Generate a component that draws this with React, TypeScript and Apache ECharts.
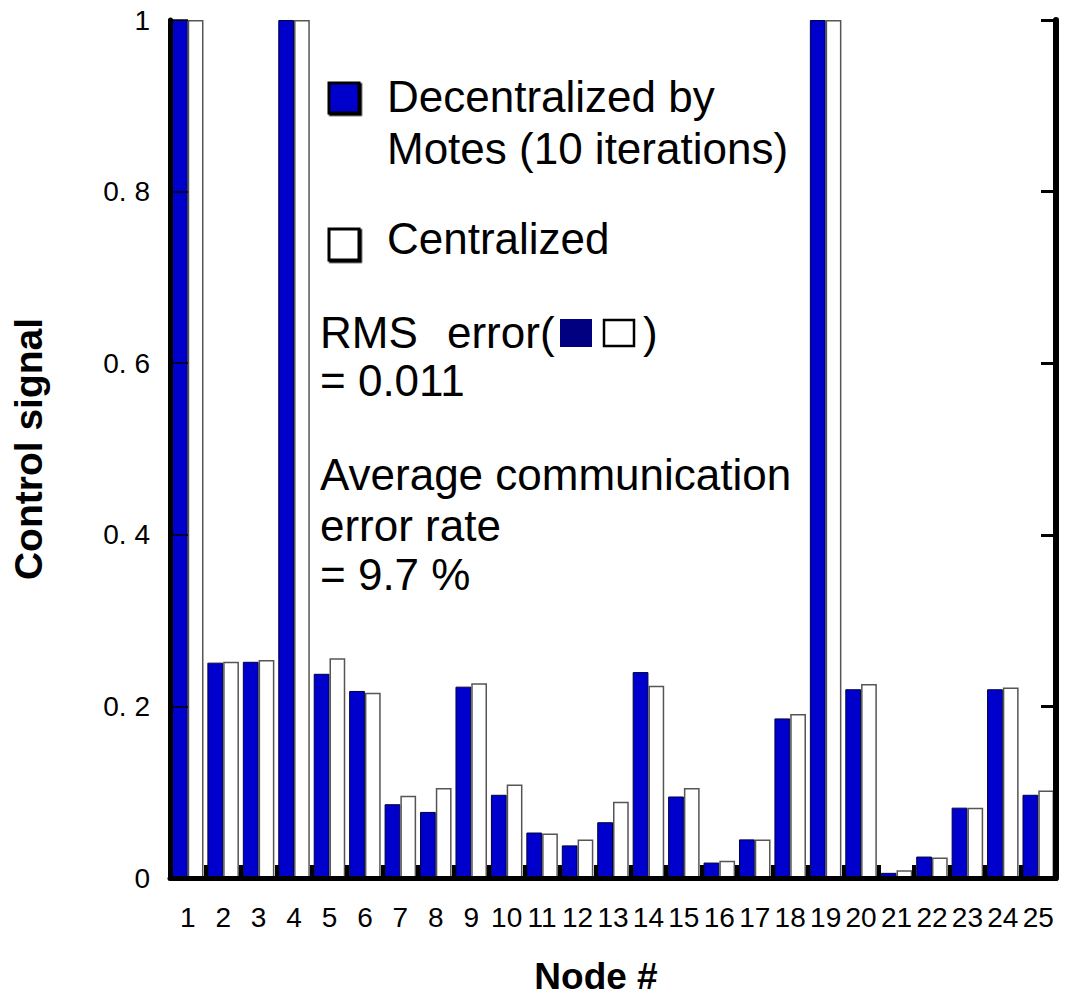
import React, { useEffect, useRef } from "react";
import * as echarts from "echarts";

const nodes = ["1","2","3","4","5","6","7","8","9","10","11","12","13","14","15","16","17","18","19","20","21","22","23","24","25"];
const decentralized = [1.0, 0.251, 0.252, 1.0, 0.238, 0.218, 0.086, 0.077, 0.223, 0.097, 0.053, 0.038, 0.065, 0.240, 0.095, 0.018, 0.045, 0.186, 1.0, 0.220, 0.006, 0.025, 0.082, 0.220, 0.097];
const centralized = [1.0, 0.252, 0.254, 1.0, 0.256, 0.216, 0.096, 0.105, 0.227, 0.109, 0.052, 0.045, 0.089, 0.224, 0.105, 0.020, 0.045, 0.191, 1.0, 0.226, 0.009, 0.024, 0.082, 0.222, 0.102];
const yTicks = [0, 0.2, 0.4, 0.6, 0.8, 1];
const seriesNames = ["Decentralized by Motes (10 iterations)", "Centralized"];
const legendLines = ["Decentralized by", "Motes (10 iterations)"];
const noteLines = ["= 0.011", "Average communication", "error rate", "= 9.7 %"];

const FONT = "'Liberation Sans', Arial, Helvetica, sans-serif";
const NARROW = "'Liberation Sans Narrow', 'Liberation Sans', Arial, sans-serif";
const BLUE = "#0000CC";

function fmtY(v: number): string {
  if (v === yTicks[0]) return "0";
  if (v === yTicks[yTicks.length - 1]) return "1";
  return v.toFixed(1).replace(".", ". ");
}

export default function App() {
  const ref = useRef<HTMLDivElement>(null);
  useEffect(() => {
    if (!ref.current) return;
    const chart = echarts.init(ref.current, undefined, { renderer: "svg" });
    const txt = (text: string, x: number, y: number, size = 44) => ({
      type: "text",
      x,
      y,
      z: 20,
      style: { text, fontSize: size, fontFamily: FONT, fill: "#000", verticalAlign: "middle", align: "left" },
    });
    chart.setOption({
      animation: false,
      backgroundColor: "#ffffff",
      grid: { left: 170, right: 13, top: 20, bottom: 120 },
      xAxis: [
        {
          type: "category",
          data: nodes,
          position: "bottom",
          z: 10,
          name: "Node #",
          nameLocation: "middle",
          nameGap: 80,
          nameTextStyle: { fontSize: 37, fontWeight: "bold", fontFamily: FONT, color: "#000", padding: [0, 34, 0, 0] },
          axisLine: { show: true, lineStyle: { color: "#000", width: 5 } },
          axisTick: { show: true, inside: true, length: 13, lineStyle: { color: "#000", width: 4 } },
          axisLabel: { interval: 0, margin: 25, fontSize: 28, fontFamily: NARROW, color: "#000" },
          splitLine: { show: false },
        },
        {
          type: "category",
          data: nodes,
          position: "top",
          z: 10,
          axisLine: { show: true, lineStyle: { color: "#000", width: 3 } },
          axisTick: { show: false },
          axisLabel: { show: false },
          splitLine: { show: false },
        },
      ],
      yAxis: [
        {
          type: "value",
          min: 0,
          max: 1,
          interval: 0.2,
          position: "left",
          z: 10,
          name: "Control signal",
          nameLocation: "middle",
          nameGap: 122,
          nameTextStyle: { fontSize: 39, fontWeight: "bold", fontFamily: FONT, color: "#000" },
          axisLine: { show: true, lineStyle: { color: "#000", width: 5 } },
          axisTick: { show: true, inside: true, length: 18, lineStyle: { color: "#000", width: 1.5 } },
          axisLabel: { margin: 20, fontSize: 28, fontFamily: NARROW, color: "#000", formatter: fmtY },
          splitLine: { show: false },
        },
        {
          type: "value",
          min: 0,
          max: 1,
          interval: 0.2,
          position: "right",
          z: 10,
          axisLine: { show: true, lineStyle: { color: "#000", width: 6 } },
          axisTick: { show: true, inside: true, length: 15, lineStyle: { color: "#000", width: 3 } },
          axisLabel: { show: false },
          splitLine: { show: false },
        },
      ],
      series: [
        {
          name: seriesNames[0],
          type: "bar",
          data: decentralized,
          barGap: "0%",
          barCategoryGap: "11%",
          itemStyle: { color: BLUE, borderColor: "#000040", borderWidth: 1 },
        },
        {
          name: seriesNames[1],
          type: "bar",
          data: centralized,
          barGap: "0%",
          barCategoryGap: "11%",
          itemStyle: { color: "#ffffff", borderColor: "#555555", borderWidth: 1.5 },
        },
      ],
      graphic: [
        {
          type: "rect",
          z: 20,
          shape: { x: 329, y: 83, width: 30, height: 30 },
          style: { fill: BLUE, stroke: "#000", lineWidth: 3, shadowColor: "#000", shadowOffsetX: 1.5, shadowOffsetY: 1.5 },
        },
        txt(legendLines[0], 387, 96),
        txt(legendLines[1], 387, 148),
        {
          type: "rect",
          z: 20,
          shape: { x: 329, y: 229, width: 30, height: 31 },
          style: { fill: "#fff", stroke: "#000", lineWidth: 3, shadowColor: "#000", shadowOffsetX: 1.5, shadowOffsetY: 1.5 },
        },
        txt(seriesNames[1], 387, 238),
        txt("RMS", 320, 332),
        txt("error(", 447, 332),
        {
          type: "rect",
          z: 20,
          shape: { x: 560, y: 319, width: 32, height: 28 },
          style: { fill: "#000080" },
        },
        {
          type: "rect",
          z: 20,
          shape: { x: 604, y: 320, width: 30, height: 26 },
          style: { fill: "#fff", stroke: "#000", lineWidth: 2.5 },
        },
        txt(")", 643, 332),
        txt(noteLines[0], 320, 380),
        txt(noteLines[1], 320, 474),
        txt(noteLines[2], 320, 525),
        txt(noteLines[3], 320, 574),
      ],
    });
    return () => chart.dispose();
  }, []);
  return (
    <div
      ref={ref}
      style={{ position: "fixed", left: 0, top: 0, width: 1069, height: 1000, background: "#fff" }}
    />
  );
}
